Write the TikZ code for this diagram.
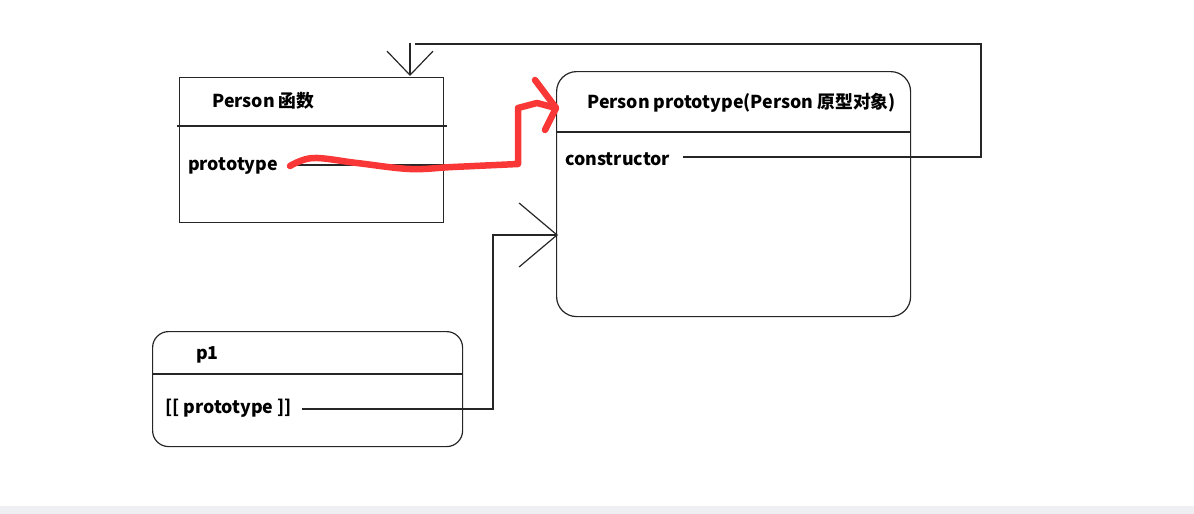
\documentclass[tikz,border=0pt]{standalone}
\usepackage{fontspec}
\newfontfamily\lbl{Noto Sans CJK SC}
\usetikzlibrary{arrows.meta}
\tikzset{
  boxline/.style={draw=black!85, line width=1.2pt},
  txt/.style={anchor=west, inner sep=0pt, font=\lbl\bfseries\fontsize{17.8}{20}\selectfont},
  conn/.style={draw=black!85, line width=1.2pt},
  redline/.style={draw={rgb,255:red,250;green,55;blue,55}, line width=6.5pt, line cap=round, line join=round},
}
\begin{document}
\begin{tikzpicture}[x=1pt,y=-1pt]
\useasboundingbox (0,0) rectangle (1194,514);
\fill[fill={rgb,255:red,238;green,239;blue,243}] (0,506) rectangle (1194,514);
% Person function box
\node[boxline, rectangle, minimum width=264pt, minimum height=145pt, anchor=north west, inner sep=0pt] (fn) at (179,77) {};
\draw[boxline] (177,126) -- (447,126);
\node[txt] (fntitle) at (212,101) {Person 函数};
\node[txt] (fnproto) at (188,166) {prototype};
% Prototype object box
\node[boxline, rectangle, rounded corners=20pt, minimum width=354pt, minimum height=245pt, anchor=north west, inner sep=0pt] (po) at (556,71) {};
\draw[boxline] (556,132) -- (910,132);
\node[txt] (potitle) at (587,103) {Person prototype(Person 原型对象)};
\node[txt] (pocons) at (565,159) {constructor};
% p1 box
\node[boxline, rectangle, rounded corners=16pt, minimum width=310pt, minimum height=115pt, anchor=north west, inner sep=0pt] (p1) at (152,331) {};
\draw[boxline] (152,374) -- (463,374);
\node[txt] (p1title) at (196,355) {p1};
\node[txt] (p1proto) at (165,408) {[[ prototype ]]};
% constructor -> Person function
\coordinate (c1) at (683,157);
\coordinate (c2) at (981,157);
\coordinate (c3) at (981,44);
\coordinate (c4) at (415,44);
\coordinate (c5) at (410,43);
\coordinate (c6) at (410,76);
\draw[conn] (c1) -- (c2) -- (c3) -- (c4);
\draw[conn, -{Straight Barb[length=24pt,width=46pt]}] (c5) -- (c6);
% p1 [[prototype]] -> prototype object
\coordinate (d1) at (302,409);
\coordinate (d2) at (493,409);
\coordinate (d3) at (493,235);
\coordinate (d4) at (558,235);
\draw[conn, -{Straight Barb[length=38pt,width=64pt]}] (d1) -- (d2) -- (d3) -- (d4);
% prototype -> prototype object (black under red)
\coordinate (e1) at (290,165);
\coordinate (e2) at (518,165);
\draw[conn] (e1) -- (e2);
% red hand-drawn arrow
\coordinate (r1) at (290,166);
\coordinate (r2) at (518,164);
\coordinate (r3) at (518,108);
\coordinate (r4) at (556,108);
\draw[redline] plot[smooth, tension=0.6] coordinates {(r1) (313,158) (357,163) (410,169) (453,167) (r2)} -- (r3) -- (537,103) -- (r4);
\draw[redline] (535,80) -- (r4) -- (545,130);
\end{tikzpicture}
\end{document}
